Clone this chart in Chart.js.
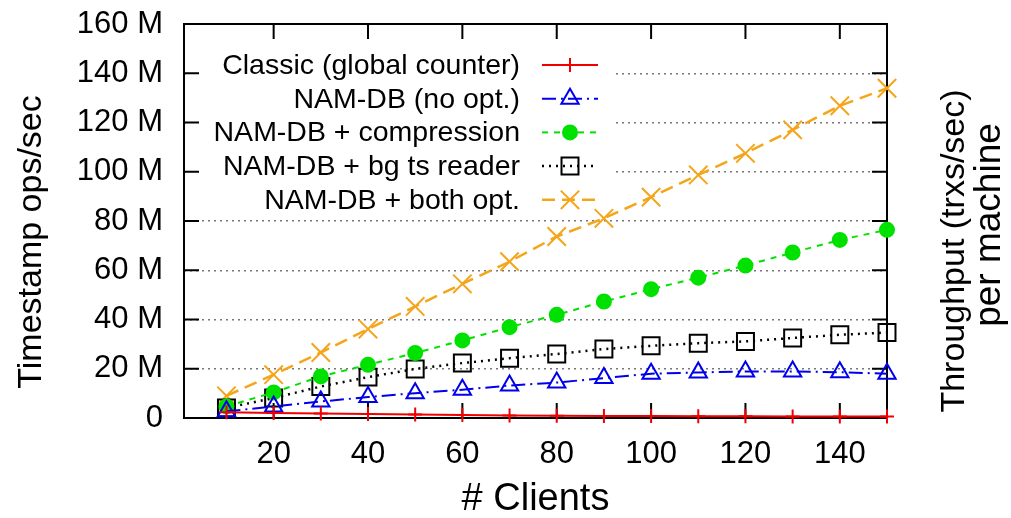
<!DOCTYPE html>
<html><head><meta charset="utf-8">
<script src="https://cdn.jsdelivr.net/npm/chart.js@4/dist/chart.umd.min.js"></script>
<style>html,body{margin:0;padding:0;background:#fff;overflow:hidden}canvas{display:block}</style>
</head><body>
<canvas id="c" width="1011" height="518" style="width:1011px;height:518px"></canvas>
<script>
// ---- data (values in millions of ops/sec) ----
const clients        = [10, 20, 30, 40, 50, 60, 70, 80, 90, 100, 110, 120, 130, 140, 150];
const classic        = [2.3, 2.0, 1.8, 1.6, 1.4, 1.2, 1.05, 0.9, 0.85, 0.8, 0.75, 0.7, 0.65, 0.6, 0.6];
const namNoOpt       = [2.7, 4.7, 6.7, 8.5, 10.1, 11.5, 13.2, 14.4, 16.2, 18.0, 18.5, 18.9, 18.9, 18.6, 18.0];
const namCompression = [4.7, 10.4, 16.9, 21.6, 26.4, 31.5, 36.9, 41.9, 47.3, 52.3, 57.0, 61.9, 67.2, 72.3, 76.4];
const namBgReader    = [4.1, 8.1, 12.8, 16.6, 19.9, 22.3, 24.3, 26.0, 28.0, 29.3, 30.4, 31.1, 32.5, 33.8, 34.7];
const namBoth        = [9.0, 17.6, 26.6, 36.1, 45.3, 54.5, 63.5, 73.7, 81.1, 89.7, 98.7, 107.5, 117.0, 126.8, 133.9];
const seriesLabels   = ['Classic (global counter)', 'NAM-DB (no opt.)', 'NAM-DB + compression', 'NAM-DB + bg ts reader', 'NAM-DB + both opt.'];
const xTickValues    = [20, 40, 60, 80, 100, 120, 140];
const yTickValues    = [0, 20, 40, 60, 80, 100, 120, 140, 160];
const xTitle  = '# Clients';
const yTitle  = 'Timestamp ops/sec';
const y2Title = ['Throughput (trxs/sec)', 'per machine'];

const FONT = '"Liberation Sans", Arial, Helvetica, sans-serif';
const series = [classic, namNoOpt, namCompression, namBgReader, namBoth];
const styles = [
  {color:'rgb(240,0,0)',   dash:[],            lw:2,   point:'cross',    r:7,  fill:false},
  {color:'rgb(0,0,235)',   dash:[14,5,2,5],    lw:2,   point:'triangle', r:10, fill:false},
  {color:'rgb(0,225,0)',   dash:[6,6],         lw:2,   point:'circle',   r:7,  fill:true},
  {color:'rgb(0,0,0)',     dash:[2,5],         lw:2.5, point:'rect',     r:12, fill:false},
  {color:'rgb(245,165,25)',dash:[13,7],        lw:2.5, point:'crossRot', r:13, fill:false}
];

const datasets = series.map((vals, i) => ({
  label: seriesLabels[i],
  data: clients.map((c, k) => ({x: c, y: vals[k]})),
  borderColor: styles[i].color,
  backgroundColor: styles[i].fill ? styles[i].color : 'rgba(0,0,0,0)',
  borderWidth: styles[i].lw,
  borderDash: styles[i].dash,
  pointStyle: styles[i].point,
  pointRadius: styles[i].r,
  pointHoverRadius: styles[i].r,
  pointBorderWidth: 2,
  pointBorderColor: styles[i].color,
  pointBackgroundColor: styles[i].fill ? styles[i].color : 'rgba(0,0,0,0)',
  tension: 0,
  fill: false,
  clip: false
}));

function drawMarker(ctx, style, x, y, r, color, fill) {
  ctx.save();
  ctx.setLineDash([]);
  ctx.strokeStyle = color; ctx.fillStyle = color; ctx.lineWidth = 2;
  ctx.beginPath();
  if (style === 'cross') {
    ctx.moveTo(x - r, y); ctx.lineTo(x + r, y); ctx.moveTo(x, y - r); ctx.lineTo(x, y + r); ctx.stroke();
  } else if (style === 'crossRot') {
    const d = r * Math.SQRT1_2;
    ctx.moveTo(x - d, y - d); ctx.lineTo(x + d, y + d); ctx.moveTo(x + d, y - d); ctx.lineTo(x - d, y + d); ctx.stroke();
  } else if (style === 'triangle') {
    let a = 0;
    ctx.moveTo(x + Math.sin(a) * r, y - Math.cos(a) * r);
    a += 2 * Math.PI / 3; ctx.lineTo(x + Math.sin(a) * r, y - Math.cos(a) * r);
    a += 2 * Math.PI / 3; ctx.lineTo(x + Math.sin(a) * r, y - Math.cos(a) * r);
    ctx.closePath(); ctx.stroke();
  } else if (style === 'rect') {
    const s = r * Math.SQRT1_2;
    ctx.rect(x - s, y - s, 2 * s, 2 * s); ctx.stroke();
  } else if (style === 'circle') {
    ctx.arc(x, y, r, 0, Math.PI * 2); ctx.closePath();
    if (fill) ctx.fill(); ctx.stroke();
  }
  ctx.restore();
}

const decor = {
  id: 'decor',
  beforeDatasetsDraw(chart) {
    const ctx = chart.ctx, a = chart.chartArea;
    const xs = chart.scales.x, ys = chart.scales.y;
    ctx.save();
    // legend box (opaque)
    ctx.fillStyle = '#fff';
    ctx.fillRect(a.left + 2, 47, 430, 166);
    // legend entries
    ctx.font = '28.5px ' + FONT;
    ctx.textAlign = 'right'; ctx.textBaseline = 'middle';
    for (let i = 0; i < seriesLabels.length; i++) {
      const y = 65 + i * 33.7;
      ctx.fillStyle = '#000';
      ctx.fillText(seriesLabels[i], 520, y + 1);
      const st = styles[i];
      ctx.strokeStyle = st.color; ctx.lineWidth = st.lw; ctx.setLineDash(st.dash);
      ctx.beginPath(); ctx.moveTo(542, y); ctx.lineTo(598, y); ctx.stroke();
      ctx.setLineDash([]);
      drawMarker(ctx, st.point, 570, y, st.r, st.color, st.fill);
    }
    // frame
    ctx.setLineDash([]);
    ctx.strokeStyle = '#000'; ctx.lineWidth = 2;
    ctx.strokeRect(a.left, a.top, a.right - a.left, a.bottom - a.top);
    // inward tick marks
    const tl = 15;
    ctx.beginPath();
    xTickValues.forEach(v => {
      const px = xs.getPixelForValue(v);
      ctx.moveTo(px, a.bottom); ctx.lineTo(px, a.bottom - tl);
      ctx.moveTo(px, a.top); ctx.lineTo(px, a.top + tl);
    });
    yTickValues.forEach(v => {
      if (v === 0 || v === 160) return;
      const py = ys.getPixelForValue(v);
      ctx.moveTo(a.left, py); ctx.lineTo(a.left + tl, py);
      ctx.moveTo(a.right, py); ctx.lineTo(a.right - tl, py);
    });
    ctx.stroke();
    // axis titles
    ctx.fillStyle = '#000';
    ctx.textAlign = 'center'; ctx.textBaseline = 'middle';
    ctx.font = '38px ' + FONT;
    ctx.fillText(xTitle, (a.left + a.right) / 2, 500);
    ctx.font = '34px ' + FONT;
    ctx.save(); ctx.translate(32, 242); ctx.rotate(-Math.PI / 2); ctx.fillText(yTitle, 0, 0); ctx.restore();
    ctx.save(); ctx.translate(955, 251); ctx.rotate(-Math.PI / 2); ctx.fillText(y2Title[0], 0, 0); ctx.restore();
    ctx.font = '37px ' + FONT;
    ctx.save(); ctx.translate(990, 225); ctx.rotate(-Math.PI / 2); ctx.fillText(y2Title[1], 0, 0); ctx.restore();
    ctx.restore();
  }
};

new Chart(document.getElementById('c'), {
  type: 'line',
  data: { datasets },
  options: {
    responsive: false,
    animation: false,
    devicePixelRatio: 1,
    layout: { padding: { left: 0, right: 124, top: 24, bottom: 0 } },
    plugins: { legend: { display: false }, tooltip: { enabled: false } },
    scales: {
      x: {
        type: 'linear', min: 1, max: 150,
        afterBuildTicks: s => { s.ticks = xTickValues.map(v => ({ value: v })); },
        afterFit: s => { s.height = 100; s.paddingLeft = 0; s.paddingRight = 0; },
        grid: { display: false, drawTicks: false },
        border: { display: false },
        ticks: { color: '#000', font: { family: FONT, size: 31 }, padding: 18, maxRotation: 0, autoSkip: false }
      },
      y: {
        type: 'linear', min: 0, max: 160,
        afterBuildTicks: s => { s.ticks = yTickValues.map(v => ({ value: v })); },
        afterFit: s => { s.width = 184; s.paddingTop = 0; s.paddingBottom = 0; },
        grid: {
          drawTicks: false, lineWidth: 1.5,
          color: c => (c.tick && (c.tick.value === 0 || c.tick.value === 160)) ? 'rgba(0,0,0,0)' : '#777'
        },
        border: { display: false, dash: [2, 4] },
        ticks: { color: '#000', font: { family: FONT, size: 31 }, padding: 21,
                 callback: v => v === 0 ? '0' : v + ' M' }
      }
    }
  },
  plugins: [decor]
});
</script>
</body></html>
